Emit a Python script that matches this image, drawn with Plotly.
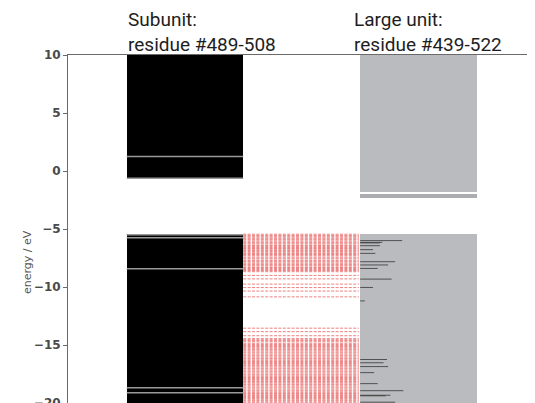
import plotly.graph_objects as go

# ---------------- data ----------------
# Subunit (residue #489-508): dense level bands drawn as black blocks (eV)
sub_band_lo = [-0.72, -20.0]
sub_band_hi = [10.0, -5.42]
# thin gaps visible inside the black blocks (eV)
sub_gap_levels = [1.26, -0.62, -5.50, -5.75, -8.42, -18.68, -19.12]

# Large unit (residue #439-522): level bands drawn as grey blocks (eV)
large_band_lo = [-1.83, -2.35, -20.0]
large_band_hi = [10.0, -1.98, -5.42]

# contribution of subunit levels within large unit (energy, relative weight)
dos_energy = [-6.00, -6.15, -6.20, -6.44, -6.78, -7.10, -7.82, -8.10, -8.40, -9.32,
              -10.04, -11.20, -16.25, -16.53, -16.86, -17.38, -18.33, -18.94, -19.33,
              -19.38, -19.93]
dos_weight = [0.36, 0.19, 0.17, 0.17, 0.11, 0.13, 0.30, 0.24, 0.15, 0.27,
              0.11, 0.04, 0.23, 0.20, 0.24, 0.12, 0.15, 0.37, 0.26,
              0.22, 0.30]

# correlation lines between the two level sets (eV)
link_levels = [-5.45, -5.55, -5.62, -5.70, -5.80, -5.88, -5.95, -6.05, -6.15, -6.22,
               -6.30, -6.42, -6.50, -6.60, -6.68, -6.75, -6.85, -6.95, -7.05, -7.12,
               -7.20, -7.30, -7.42, -7.50, -7.58, -7.70, -7.78, -7.85, -7.95, -8.05,
               -8.12, -8.20, -8.32, -8.40, -8.50, -8.58, -8.68, -9.00, -9.30, -9.75,
               -10.05, -10.35, -10.85, -13.55, -13.85, -14.20, -14.45, -14.55, -14.62,
               -14.72, -14.85, -14.95, -15.05, -15.12, -15.20, -15.32, -15.40, -15.50,
               -15.60, -15.68, -15.78, -15.88, -15.95, -16.05, -16.15, -16.22, -16.32,
               -16.42, -16.50, -16.60, -16.70, -16.78, -16.88, -16.98, -17.05, -17.15,
               -17.25, -17.32, -17.42, -17.52, -17.60, -17.70, -17.80, -17.88, -17.98,
               -18.08, -18.15, -18.25, -18.35, -18.42, -18.52, -18.62, -18.70, -18.80,
               -18.90, -18.98, -19.08, -19.18, -19.25, -19.35, -19.45, -19.52, -19.62,
               -19.72, -19.80, -19.90, -19.98]

y_ticks = [10, 5, 0, -5, -10, -15, -20]
title_sub = ["Subunit:", "residue #489-508"]
title_large = ["Large unit:", "residue #439-522"]

# ---------------- layout constants ----------------
SUB_X0, SUB_X1 = 0.126, 0.376
LNK_X0, LNK_X1 = 0.376, 0.624
LRG_X0, LRG_X1 = 0.627, 0.877
COL_W = SUB_X1 - SUB_X0
PAGE_OFF = 8  # default body margin of the html page

fig = go.Figure()

# subunit blocks
fig.add_trace(go.Bar(
    x=[(SUB_X0 + SUB_X1) / 2] * len(sub_band_lo),
    base=sub_band_lo,
    y=[h - l for l, h in zip(sub_band_lo, sub_band_hi)],
    width=SUB_X1 - SUB_X0,
    marker=dict(color="#000000", line=dict(width=0)),
    hoverinfo="skip", showlegend=False))

# gaps inside subunit blocks
gx, gy = [], []
for e in sub_gap_levels:
    gx += [SUB_X0, SUB_X1, None]
    gy += [e, e, None]
fig.add_trace(go.Scatter(x=gx, y=gy, mode="lines",
                         line=dict(color="#999999", width=1.5),
                         hoverinfo="skip", showlegend=False))

# large unit blocks
fig.add_trace(go.Bar(
    x=[(LRG_X0 + LRG_X1) / 2] * len(large_band_lo),
    base=large_band_lo,
    y=[h - l for l, h in zip(large_band_lo, large_band_hi)],
    width=LRG_X1 - LRG_X0,
    marker=dict(color=["#b9bbbe", "#abadb0", "#b9bbbe"], line=dict(width=0)),
    hoverinfo="skip", showlegend=False))

# red dashed links
rx, ry = [], []
for e in link_levels:
    rx += [LNK_X0, LNK_X1, None]
    ry += [e, e, None]
fig.add_trace(go.Scatter(x=rx, y=ry, mode="lines",
                         line=dict(color="rgb(236,128,128)", width=1, dash="3px,1.4px"),
                         hoverinfo="skip", showlegend=False))

# black weight lines inside large unit
dx, dy = [], []
for e, w in zip(dos_energy, dos_weight):
    dx += [LRG_X0, LRG_X0 + w * COL_W, None]
    dy += [e, e, None]
fig.add_trace(go.Scatter(x=dx, y=dy, mode="lines",
                         line=dict(color="#363636", width=0.8),
                         hoverinfo="skip", showlegend=False))

tick_text = [str(v).replace("-", "\u2212") for v in y_ticks]

fig.update_layout(
    width=535 - PAGE_OFF, height=403 - PAGE_OFF,
    margin=dict(l=68 - PAGE_OFF, r=1, t=55 - PAGE_OFF, b=0, autoexpand=False),
    paper_bgcolor="white", plot_bgcolor="white",
    barmode="overlay", bargap=0,
    xaxis=dict(range=[0, 1], showgrid=False, zeroline=False, showticklabels=False,
               ticks="", showline=True, mirror=True, linecolor="#6a6a6a", linewidth=1,
               automargin=False, fixedrange=True),
    yaxis=dict(range=[-20, 10], tickvals=y_ticks, ticktext=tick_text,
               showgrid=False, zeroline=False, ticks="outside", ticklen=4,
               tickcolor="#6a6a6a", showline=True, mirror=True,
               linecolor="#6a6a6a", linewidth=1, automargin=False, fixedrange=True,
               ticklabeloverflow="allow",
               tickfont=dict(family="DejaVu Sans", size=12, color="#4a4a4a",
                             weight="bold")),
    font=dict(family="DejaVu Sans"),
)

PLOT_H = 348
PLOT_W = 466


def py(px):
    return 1 + (55 - px) / PLOT_H


ann_font = dict(family="Roboto", size=19, color="#1e1e1e")
for lines, x_px in [(title_sub, 126), (title_large, 352)]:
    fig.add_annotation(text="<br>".join(lines), x=(x_px - 68) / PLOT_W, y=py(32.5),
                       xref="paper", yref="paper", xanchor="left", yanchor="middle",
                       showarrow=False, font=ann_font, align="left")

fig.add_annotation(text="energy / eV", x=(27 - 68) / PLOT_W, y=py(262), xref="paper",
                   yref="paper", xanchor="center", yanchor="middle", textangle=-90,
                   showarrow=False,
                   font=dict(family="DejaVu Sans", size=11, color="#555555"))

fig.write_html("out.html")
